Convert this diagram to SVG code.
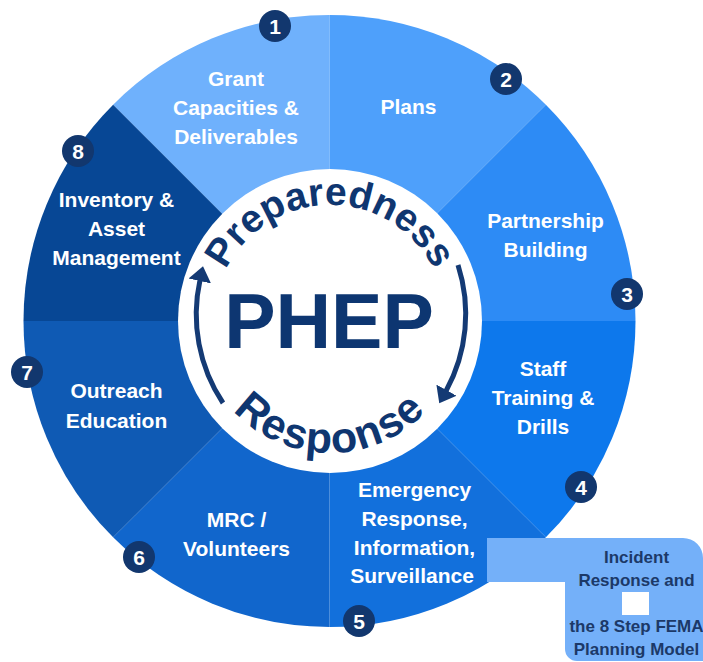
<svg xmlns="http://www.w3.org/2000/svg" width="703" height="662" viewBox="0 0 703 662">
  <defs>
    <style>
      .label { font-family: "Liberation Sans", Arial, sans-serif; font-weight: bold; font-size: 21px; fill: #ffffff; text-anchor: middle; }
      .badge circle { fill: #12376e; }
      .badge text { font-family: "Liberation Sans", Arial, sans-serif; font-weight: bold; font-size: 21px; fill: #ffffff; text-anchor: middle; }
      .hub-title { font-family: "Liberation Sans", Arial, sans-serif; font-weight: bold; font-size: 77px; fill: #0d3671; text-anchor: middle; }
      .cycle { font-family: "Liberation Sans", Arial, sans-serif; font-weight: bold; fill: #0f3670; }
      .cycle-arrow { fill: none; stroke: #143a74; stroke-width: 5; marker-end: url(#head); }
      .note { font-family: "Liberation Sans", Arial, sans-serif; font-weight: bold; font-size: 17px; fill: #1c3968; text-anchor: middle; }
    </style>
    <marker id="head" viewBox="0 -12 16 24" refX="1" refY="0" markerWidth="16" markerHeight="24" markerUnits="userSpaceOnUse" orient="auto">
      <path d="M0,-11.5 L15,0 L0,11.5 Z" fill="#143a74"/>
    </marker>
    <path id="arc-top" d="M 214 321 A 116 116 0 0 1 446 321"/>
    <path id="arc-bottom" d="M 198 321 A 132 132 0 0 0 462 321"/>
  </defs>

  <!-- wheel segments -->
  <g id="seg-1">
    <path d="M329.5 321 L113.13 104.63 A306 306 0 0 1 329.5 15 Z" fill="#6fb1fc"/>
    <text class="label" x="236" y="86">Grant</text>
    <text class="label" x="236" y="115">Capacities &amp;</text>
    <text class="label" x="236" y="144">Deliverables</text>
  </g>
  <g id="seg-2">
    <path d="M329.5 321 L329.5 15 A306 306 0 0 1 545.87 104.63 Z" fill="#4ea0fb"/>
    <text class="label" x="408.5" y="114">Plans</text>
  </g>
  <g id="seg-3">
    <path d="M329.5 321 L545.87 104.63 A306 306 0 0 1 635.5 321 Z" fill="#2d8bf5"/>
    <text class="label" x="545.5" y="227.5">Partnership</text>
    <text class="label" x="545.5" y="256.5">Building</text>
  </g>
  <g id="seg-4">
    <path d="M329.5 321 L635.5 321 A306 306 0 0 1 545.87 537.37 Z" fill="#0d78ec"/>
    <text class="label" x="543" y="375.5">Staff</text>
    <text class="label" x="543" y="404.5">Training &amp;</text>
    <text class="label" x="543" y="434">Drills</text>
  </g>
  <g id="seg-5">
    <path d="M329.5 321 L545.87 537.37 A306 306 0 0 1 329.5 627 Z" fill="#1270dc"/>
    <text class="label" x="414.5" y="496.5">Emergency</text>
    <text class="label" x="414.5" y="526">Response,</text>
    <text class="label" x="414.5" y="554.5">Information,</text>
    <text class="label" x="412" y="582.5">Surveillance</text>
  </g>
  <g id="seg-6">
    <path d="M329.5 321 L329.5 627 A306 306 0 0 1 113.13 537.37 Z" fill="#1166cc"/>
    <text class="label" x="236.5" y="526.5">MRC /</text>
    <text class="label" x="236.5" y="556">Volunteers</text>
  </g>
  <g id="seg-7">
    <path d="M329.5 321 L113.13 537.37 A306 306 0 0 1 23.5 321 Z" fill="#0f5ab4"/>
    <text class="label" x="116.5" y="398">Outreach</text>
    <text class="label" x="116.5" y="427.5">Education</text>
  </g>
  <g id="seg-8">
    <path d="M329.5 321 L23.5 321 A306 306 0 0 1 113.13 104.63 Z" fill="#074795"/>
    <text class="label" x="116.5" y="206.5">Inventory &amp;</text>
    <text class="label" x="116.5" y="236">Asset</text>
    <text class="label" x="116.5" y="265">Management</text>
  </g>

  <!-- central hub -->
  <g id="hub">
    <circle cx="330" cy="321" r="152" fill="#ffffff"/>
    <text class="hub-title" x="329" y="348">PHEP</text>
    <text class="cycle" font-size="39"><textPath href="#arc-top" startOffset="50%" text-anchor="middle">Preparedness</textPath></text>
    <text class="cycle" font-size="43" letter-spacing="1.5"><textPath href="#arc-bottom" startOffset="50%" text-anchor="middle">Response</textPath></text>
  </g>

  <!-- cycle arrows -->
  <g id="connectors">
    <path class="cycle-arrow" d="M 223 403 A 160 160 0 0 1 200 280"/>
    <path class="cycle-arrow" d="M 458 265 A 160 160 0 0 1 446 391"/>
  </g>

  <!-- callout box -->
  <g id="callout">
    <path d="M487 538 H683 A20 20 0 0 1 703 558 V661 H577 A12 12 0 0 1 565 649 V582 H487 Z" fill="#74b0f9"/>
    <text class="note" x="636.5" y="562.5">Incident</text>
    <text class="note" x="636.5" y="586">Response and</text>
    <rect x="622" y="592" width="27" height="23" fill="#ffffff"/>
    <text class="note" x="636.5" y="632">the 8 Step FEMA</text>
    <text class="note" x="636.5" y="655">Planning Model</text>
  </g>

  <!-- step numbers -->
  <g id="badge-1" class="badge"><circle cx="275" cy="26" r="16"/><text x="275" y="33.5">1</text></g>
  <g id="badge-2" class="badge"><circle cx="506" cy="79" r="16"/><text x="506" y="86.5">2</text></g>
  <g id="badge-3" class="badge"><circle cx="627" cy="294" r="16"/><text x="627" y="301.5">3</text></g>
  <g id="badge-4" class="badge"><circle cx="581" cy="487" r="16"/><text x="581" y="494.5">4</text></g>
  <g id="badge-5" class="badge"><circle cx="359" cy="621" r="16"/><text x="359" y="628.5">5</text></g>
  <g id="badge-6" class="badge"><circle cx="139" cy="557" r="16"/><text x="139" y="564.5">6</text></g>
  <g id="badge-7" class="badge"><circle cx="27" cy="372" r="16"/><text x="27" y="379.5">7</text></g>
  <g id="badge-8" class="badge"><circle cx="78" cy="151" r="16"/><text x="78" y="158.5">8</text></g>
</svg>
